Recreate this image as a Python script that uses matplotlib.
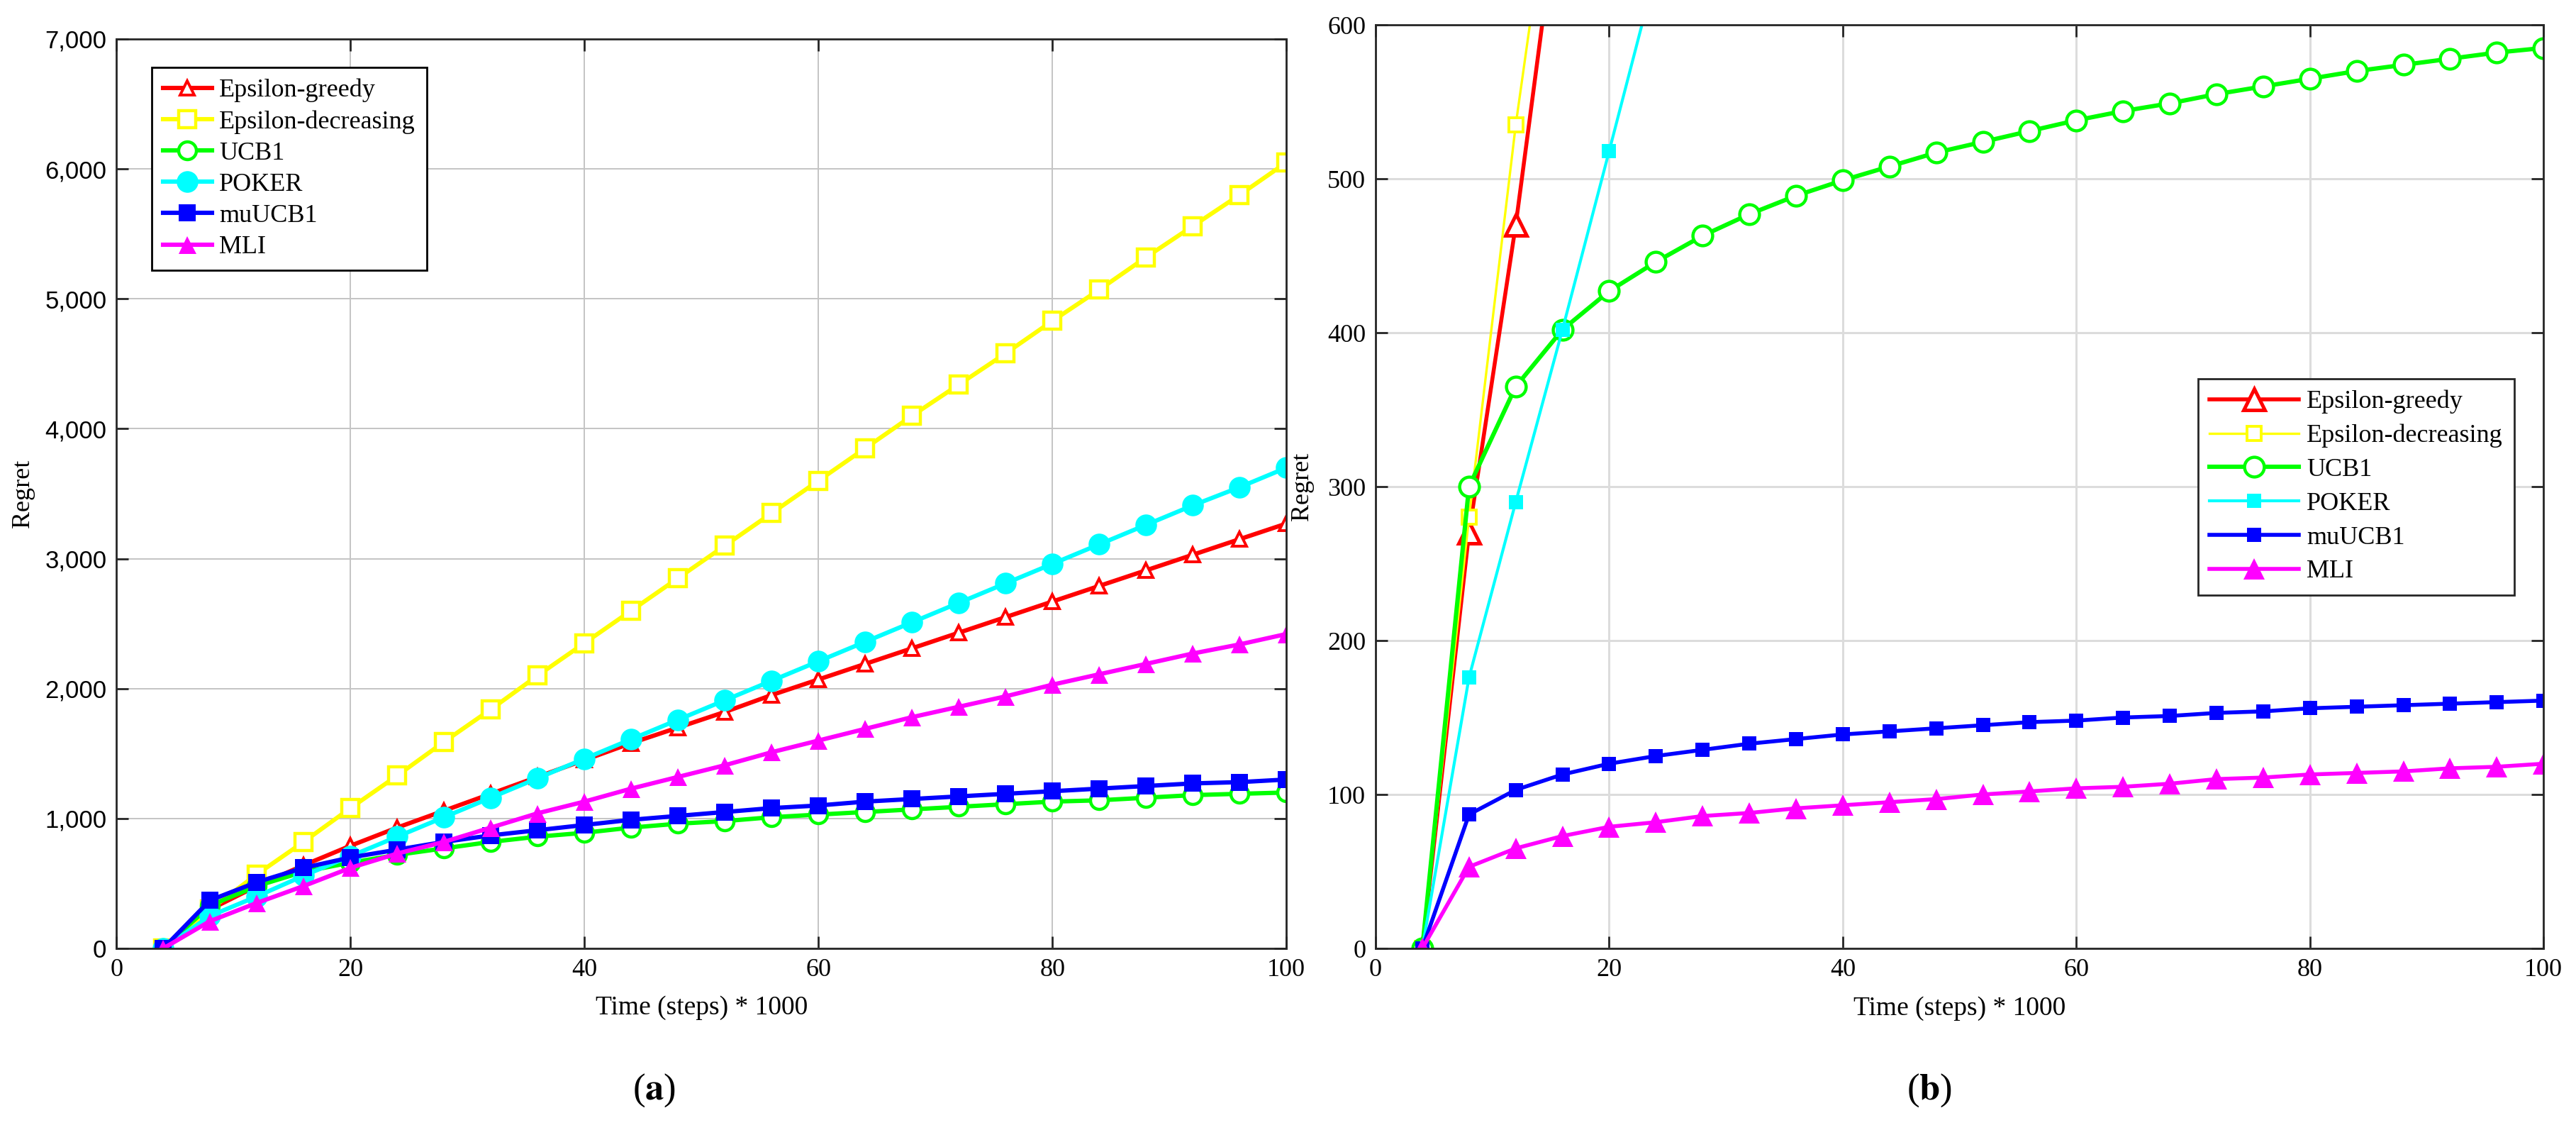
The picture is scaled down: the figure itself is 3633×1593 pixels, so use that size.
import numpy as np
import matplotlib
matplotlib.use("Agg")
import matplotlib.pyplot as plt
from matplotlib.ticker import FuncFormatter

plt.rcParams['font.family'] = ['Liberation Serif', 'DejaVu Serif']
plt.rcParams['mathtext.fontset'] = 'stix'

labels = ["Epsilon-greedy", "Epsilon-decreasing", "UCB1", "POKER", "muUCB1", "MLI"]
colors = ["#ff0000", "#ffff00", "#00ff00", "#00ffff", "#0000ff", "#ff00ff"]

# (a) regret, steps 4..100 (x1000)
steps_a = [4, 8, 12, 16, 20, 24, 28, 32, 36, 40, 44, 48, 52, 56, 60, 64, 68, 72, 76, 80, 84, 88, 92, 96, 100]
greedy_a = [0, 300, 480, 640, 790, 930, 1060, 1190, 1320, 1450, 1580, 1700, 1820, 1950, 2070,
            2190, 2310, 2430, 2550, 2670, 2790, 2910, 3030, 3150, 3270]
decr_a = [0, 300, 570, 820, 1080, 1330, 1590, 1840, 2100, 2350, 2600, 2850, 3100, 3350, 3600,
          3850, 4100, 4340, 4580, 4830, 5070, 5320, 5560, 5800, 6050]
ucb1_a = [0, 330, 480, 590, 660, 720, 770, 820, 860, 890, 930, 960, 980, 1010, 1030,
          1050, 1070, 1090, 1110, 1130, 1140, 1160, 1180, 1190, 1200]
poker_a = [0, 250, 400, 560, 710, 860, 1010, 1160, 1310, 1460, 1610, 1760, 1910, 2060, 2210,
           2360, 2510, 2660, 2810, 2960, 3110, 3260, 3410, 3550, 3700]
muucb1_a = [0, 370, 510, 620, 700, 760, 820, 870, 910, 950, 990, 1020, 1050, 1080, 1100,
            1130, 1150, 1170, 1190, 1210, 1230, 1250, 1270, 1280, 1300]
mli_a = [0, 210, 350, 480, 620, 730, 820, 930, 1040, 1130, 1230, 1320, 1410, 1510, 1600,
         1690, 1780, 1860, 1940, 2030, 2110, 2190, 2270, 2340, 2420]

# (b) regret
steps_b = steps_a
greedy_b = [0, 270, 470, 700]
decr_b = [0, 280, 535, 750]
ucb1_b = [0, 300, 365, 402, 427, 446, 463, 477, 489, 499, 508, 517, 524, 531, 538,
          544, 549, 555, 560, 565, 570, 574, 578, 582, 585]
poker_b = [0, 176, 290, 402, 518, 635]
muucb1_b = [0, 87, 103, 113, 120, 125, 129, 133, 136, 139, 141, 143, 145, 147, 148,
            150, 151, 153, 154, 156, 157, 158, 159, 160, 161]
mli_b = [0, 53, 65, 73, 79, 82, 86, 88, 91, 93, 95, 97, 100, 102, 104,
         105, 107, 110, 111, 113, 114, 115, 117, 118, 120]

fig = plt.figure(figsize=(18.165, 7.965), dpi=200)
ax1 = fig.add_axes([0.0452, 0.1607, 0.4542, 0.8048])
ax2 = fig.add_axes([0.5340, 0.1607, 0.4534, 0.8173])

# --- panel (a)
series_a = [greedy_a, decr_a, ucb1_a, poker_a, muucb1_a, mli_a]
style_a = [dict(marker='^', ms=7, mfc='white', mew=1.4),
           dict(marker='s', ms=8.5, mfc='white', mew=1.6),
           dict(marker='o', ms=9, mfc='white', mew=1.6),
           dict(marker='o', ms=11, mfc=colors[3], mew=0),
           dict(marker='s', ms=8.5, mfc=colors[4], mew=0),
           dict(marker='^', ms=9, mfc=colors[5], mew=0)]
for y, lab, c, st in zip(series_a, labels, colors, style_a):
    ax1.plot(steps_a, y, color=c, lw=2.2, label=lab, mec=c, **st)

ax1.set_xlim(0, 100)
ax1.set_ylim(0, 7000)
ax1.set_xticks(np.arange(0, 101, 20))
ax1.set_yticks(np.arange(0, 7001, 1000))
ax1.yaxis.set_major_formatter(FuncFormatter(lambda v, p: f"{int(v):,}"))
ax1.legend(loc='upper left', bbox_to_anchor=(0.030, 0.969), fontsize=13,
           fancybox=False, edgecolor='black', framealpha=1, handlelength=1.9,
           handletextpad=0.3, borderpad=0.45, labelspacing=0.3, borderaxespad=0)
ax1.grid(True, color='#c4c4c4', lw=0.7)

# --- panel (b)
series_b = [greedy_b, decr_b, ucb1_b, poker_b, muucb1_b, mli_b]
style_b = [dict(marker='^', ms=11, mfc='white', mew=1.8, lw=2.0),
           dict(marker='s', ms=7, mfc='white', mew=1.4, lw=1.2),
           dict(marker='o', ms=10, mfc='white', mew=1.6, lw=2.2),
           dict(marker='s', ms=7, mfc=colors[3], mew=0, lw=1.5),
           dict(marker='s', ms=7, mfc=colors[4], mew=0, lw=2.0),
           dict(marker='^', ms=10.5, mfc=colors[5], mew=0, lw=2.0)]
for y, lab, c, st in zip(series_b, labels, colors, style_b):
    ax2.plot(steps_b[:len(y)], y, color=c, label=lab, mec=c, **st)

ax2.set_xlim(0, 100)
ax2.set_ylim(0, 600)
ax2.set_xticks(np.arange(0, 101, 20))
ax2.set_yticks(np.arange(0, 601, 100))
ax2.legend(loc='upper left', bbox_to_anchor=(0.704, 0.617), fontsize=13,
           fancybox=False, edgecolor='#262626', framealpha=1, handlelength=3.5,
           handletextpad=0.3, borderpad=0.45, labelspacing=0.4, borderaxespad=0)
ax2.grid(True, color='#dcdcdc', lw=1.1)

for ax, ylx in ((ax1, -0.080), (ax2, -0.063)):
    ax.set_axisbelow(True)
    ax.tick_params(direction='in', top=True, right=True, labelsize=13, length=6,
                   width=1.0, color='#262626', pad=5)
    for s in ax.spines.values():
        s.set_color('#262626')
        s.set_linewidth(1.0)
    ax.set_xlabel("Time (steps) * 1000", fontsize=13.5)
    ax.set_ylabel("Regret", fontsize=13)
    ax.xaxis.set_label_coords(0.5, -0.065)
    ax.xaxis.label.set_va('center')
    ax.yaxis.set_label_coords(ylx, 0.5)
    ax.yaxis.label.set_va('center')

for t in ax1.get_yticklabels():
    t.set_family(['Liberation Sans', 'DejaVu Sans'])
    t.set_fontsize(12.5)

fig.text(0.254, 0.035, r"($\mathbf{a}$)", ha='center', va='center', fontsize=19)
fig.text(0.749, 0.035, r"($\mathbf{b}$)", ha='center', va='center', fontsize=19)

fig.savefig("out.png", dpi=200)
